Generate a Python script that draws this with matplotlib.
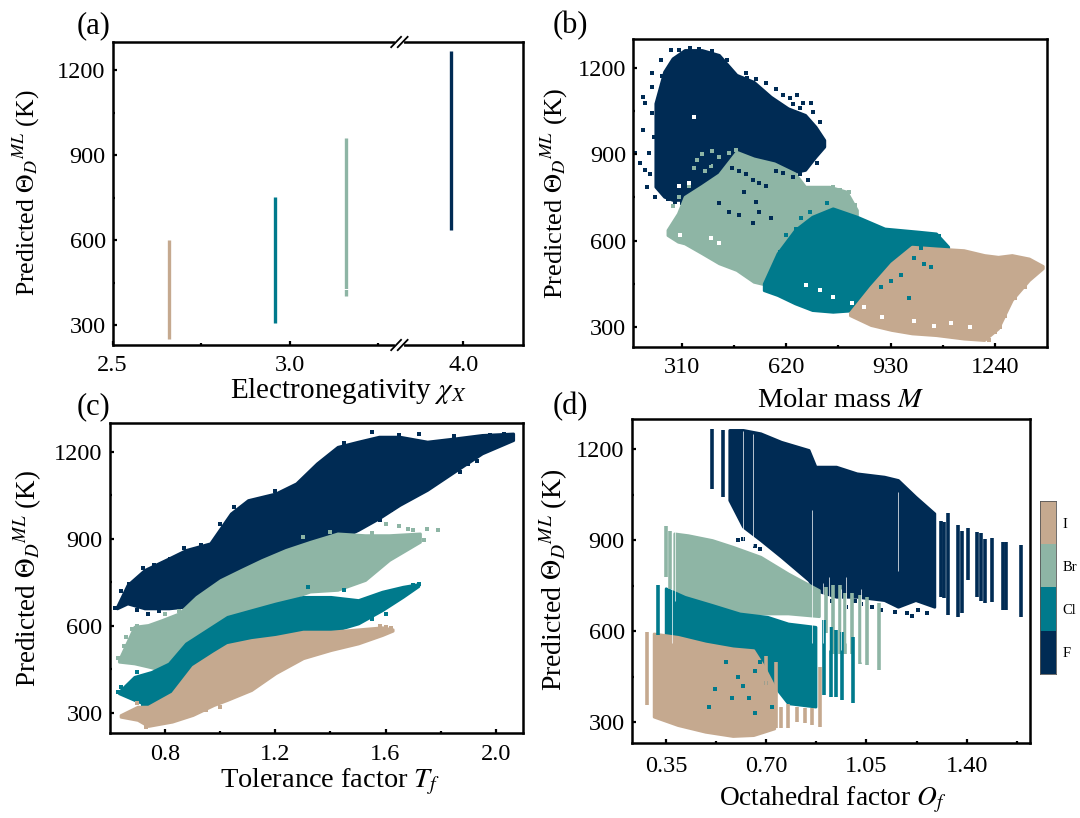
import numpy as np
import matplotlib
matplotlib.use('Agg')
import matplotlib.pyplot as plt

plt.rcParams['font.family'] = ['Liberation Serif', 'DejaVu Serif']
plt.rcParams['mathtext.fontset'] = 'stix'

W, H = 1080, 818
NAVY, TEAL, SAGE, TAN = '#002b54', '#007a8c', '#8eb5a5', '#c5a98f'

halogens = ['F', 'Cl', 'Br', 'I']

# (a) electronegativity
a_x = [2.658, 2.959, 3.16, 3.966]
a_lo = [252, 308, 405, 636]
a_hi = [600, 752, 961, 1268]
a_colors = [TAN, TEAL, SAGE, NAVY]

# (b) molar mass, cloud outlines and loose points
b_f_x = [231, 257, 282, 318, 369, 420, 472, 523, 574, 625, 676, 707, 733]
b_f_hi = [1076, 1186, 1232, 1261, 1261, 1244, 1175, 1151, 1099, 1059, 1036, 995, 949]
b_f_lo = [787, 752, 741, 741, 741, 741, 741, 787, 833, 833, 845, 891, 926]
b_f_px = [195, 201, 221, 221, 221, 247, 252, 279, 195, 185, 201, 206, 231, 170, 651, 630, 692, 671, 712, 686, 559, 502,
          240, 255, 270, 290, 310, 345, 380, 215, 212, 228, 238, 300, 335, 360, 400, 445, 500, 530, 590, 610, 640, 660, 700, 720]
b_f_py = [1099, 1076, 1180, 1134, 1041, 1227, 1169, 1261, 984, 868, 845, 787, 752, 903, 1105, 1094, 1076, 1076, 868, 810, 1146, 1163,
          800, 770, 745, 735, 730, 732, 738, 830, 905, 960, 1005, 1262, 1268, 1266, 1258, 1225, 1180, 1160, 1125, 1105, 1075, 1060, 1045, 1010]

b_br_x = [267, 298, 318, 369, 420, 472, 523, 584, 646, 676, 748, 799, 830]
b_br_hi = [637, 694, 752, 790, 830, 908, 885, 868, 833, 787, 787, 770, 706]
b_br_lo = [619, 596, 590, 556, 521, 498, 457, 440, 463, 509, 625, 683, 688]
b_br_px = [370, 400, 420, 450, 470, 355, 395, 380, 345, 330, 420, 450, 465, 285, 300, 780, 760, 805, 825]
b_br_py = [900, 910, 890, 905, 915, 880, 860, 840, 850, 790, 790, 850, 810, 720, 750, 775, 785, 770, 725]
b_nv_px = [390, 430, 460, 480, 500, 520, 540, 560, 420, 450, 480, 520, 540, 590, 610, 640, 660, 495, 530, 575]
b_nv_py = [870, 865, 850, 840, 830, 810, 800, 790, 730, 700, 690, 660, 700, 840, 835, 820, 830, 770, 735, 680]

b_cl_x = [553, 594, 646, 697, 758, 830, 912, 1014, 1065, 1101]
b_cl_hi = [451, 556, 637, 683, 712, 683, 642, 631, 625, 579]
b_cl_lo = [428, 411, 382, 359, 353, 359, 318, 509, 556, 567]
b_cl_px = [620, 640, 600, 580, 590, 650, 630, 665, 600, 690, 740, 1075, 1000, 1030, 1050, 1020, 900, 930, 960, 985, 1040, 1090]
b_cl_py = [620, 590, 560, 500, 470, 640, 520, 680, 440, 700, 730, 615, 540, 520, 510, 575, 440, 460, 480, 400, 590, 585]

b_i_x = [809, 871, 932, 993, 1065, 1147, 1208, 1249, 1290, 1341, 1382]
b_i_hi = [350, 440, 521, 579, 573, 567, 550, 544, 550, 538, 512]
b_i_lo = [341, 307, 290, 278, 272, 260, 255, 295, 394, 463, 504]
b_i_px = [1180, 1200, 1222, 1240, 1255, 1270, 1300, 1330, 1355]
b_i_py = [262, 268, 257, 282, 300, 340, 400, 440, 480]

# small gaps left between the points
b_gap_x = [305, 330, 300, 345, 395, 420, 680, 720, 760, 815, 850, 905, 1000, 1060, 1110, 1165]
b_gap_y = [620, 800, 790, 1030, 610, 590, 445, 430, 405, 385, 370, 335, 320, 305, 315, 300]

# (c) tolerance factor, cloud outlines and loose points
c_f_x = [.626, .664, .726, .814, .876, .964, 1.039, 1.101, 1.201, 1.276, 1.351, 1.426, 1.501, 1.576, 1.651, 1.751, 1.850, 1.950, 2.063]
c_f_hi = [666, 741, 793, 833, 862, 885, 988, 1034, 1057, 1092, 1161, 1218, 1236, 1253, 1253, 1236, 1247, 1259, 1264]
c_f_lo = [660, 677, 660, 660, 666, 723, 758, 769, 827, 862, 873, 896, 931, 971, 1017, 1069, 1132, 1195, 1241]
c_f_px = [.62, .66, .70, .74, .78, .85, .72, .76, .82, .87, .64, .67, 1.30, 1.62, 1.70, 1.75, 1.80, 1.87, 1.90, 1.93, 1.95, 1.78,
          1.20, 1.05, 1.65, 1.55, 1.72, 1.10, 1.30, 1.45, 1.85, 1.98, 2.03, .93, 1.00, 1.48, 1.58]
c_f_py = [660, 680, 655, 640, 650, 650, 800, 810, 830, 870, 720, 745, 880, 1000, 1060, 1090, 1130, 1130, 1160, 1170, 1210, 1100,
          1065, 1010, 1260, 1268, 1263, 760, 1100, 1232, 1255, 1258, 1262, 880, 950, 905, 965]

c_br_x = [.633, .689, .739, .789, .851, .914, 1.001, 1.076, 1.151, 1.238, 1.326, 1.426, 1.526, 1.613, 1.725]
c_br_hi = [482, 597, 603, 620, 643, 700, 758, 793, 827, 862, 890, 919, 913, 913, 919]
c_br_lo = [476, 470, 459, 447, 493, 551, 597, 643, 666, 689, 718, 724, 758, 827, 890]
c_br_px = [.63, .65, .66, .68, .70, .68, .72, 1.65, 1.68, 1.70, 1.75, 1.79, 1.74, 1.55, 1.60, 1.65, 1.55, 1.50, 1.40, 1.30, .85, .80]
c_br_py = [490, 530, 560, 590, 600, 510, 480, 945, 935, 930, 935, 930, 895, 920, 950, 860, 790, 780, 925, 905, 650, 640]

c_cl_x = [.633, .689, .751, .814, .876, .951, 1.026, 1.113, 1.201, 1.301, 1.401, 1.501, 1.588, 1.663, 1.719]
c_cl_hi = [372, 424, 441, 470, 539, 585, 631, 654, 677, 700, 700, 689, 718, 735, 744]
c_cl_lo = [367, 344, 321, 367, 401, 470, 516, 528, 551, 574, 580, 608, 654, 700, 737]
c_cl_px = [.63, .64, .70, .75, .85, .90, .94, 1.70, 1.72, 1.67, 1.60, 1.55, 1.32, 1.45, .80, .72]
c_cl_py = [370, 390, 440, 310, 380, 420, 440, 740, 745, 720, 640, 625, 735, 725, 310, 330]

c_i_x = [.639, .701, .739, .826, .901, .976, 1.026, 1.113, 1.201, 1.301, 1.401, 1.501, 1.588, 1.626]
c_i_hi = [292, 321, 321, 367, 459, 505, 534, 551, 562, 580, 580, 588, 595, 588]
c_i_lo = [286, 275, 254, 269, 292, 326, 344, 378, 436, 488, 516, 539, 568, 583]
c_i_px = [1.62, 1.60, 1.58, .73, 1.00, .95, .70, 1.05, 1.10]
c_i_py = [592, 595, 600, 250, 320, 310, 335, 375, 400]

# (d) octahedral factor, outlines plus separate columns
d_f_x = [.571, .619, .68, .752, .848, .872, .944, 1.016, 1.112, 1.16, 1.221, 1.287]
d_f_hi = [1264, 1264, 1253, 1225, 1198, 1143, 1143, 1121, 1110, 1099, 1044, 989]
d_f_lo = [1033, 945, 901, 846, 769, 736, 714, 714, 703, 681, 703, 681]
d_f_cx = [.511, .55, 1.311, 1.335, 1.371, 1.405, 1.437, 1.465, 1.488, 1.527, 1.537, 1.591, 1.32, 1.385, 1.45]
d_f_ct = [1266, 1264, 965, 989, 951, 940, 929, 903, 907, 896, 896, 885, 960, 930, 925]
d_f_cb = [1068, 1044, 714, 654, 648, 769, 714, 692, 698, 670, 670, 648, 710, 660, 700]
d_f_px = [.66, .72, .62, .60, .68, .75, .80, .85, .93, .98, 1.03, 1.07, 1.10, 1.15, 1.21, 1.23, .96, 1.01, 1.19, 1.26]
d_f_py = [880, 890, 905, 900, 870, 860, 830, 800, 700, 680, 690, 680, 670, 665, 650, 670, 720, 700, 660, 660]

d_br_x = [.379, .427, .511, .583, .68, .776, .884]
d_br_hi = [923, 917, 901, 879, 846, 791, 736]
d_br_lo = [659, 659, 659, 659, 659, 659, 650]
d_br_cx = [.351, .365, .908, .932, .956, .974, .998, 1.028, 1.052, 1.094]
d_br_ct = [947, 930, 747, 753, 753, 725, 725, 720, 714, 692]
d_br_cb = [780, 740, 593, 527, 527, 527, 527, 494, 489, 473]

d_cl_x = [.349, .415, .511, .607, .704, .776, .872]
d_cl_hi = [742, 714, 687, 659, 648, 626, 615]
d_cl_lo = [593, 571, 560, 538, 450, 363, 352]
d_cl_cx = [.322, .902, .926, .944, .966, 1.004]
d_cl_ct = [753, 637, 615, 604, 599, 582]
d_cl_cb = [588, 390, 385, 385, 374, 363]
d_cl_px = [.56, .60, .62, .66, .68, .70, .64, .72, .66, .58, .52, .50]
d_cl_py = [500, 450, 420, 470, 500, 430, 380, 350, 330, 380, 410, 350]

d_i_x = [.307, .391, .487, .583, .655, .692, .728]
d_i_hi = [593, 582, 560, 544, 538, 483, 417]
d_i_lo = [319, 291, 269, 255, 258, 269, 280]
d_i_cx = [.285, .70, .735, .752, .776, .806, .836, .86, .888]
d_i_ct = [599, 520, 500, 352, 360, 352, 346, 346, 483]
d_i_cb = [357, 270, 280, 280, 280, 302, 297, 291, 286]

# white stripes between columns
d_gap_x = [.619, .655, 1.16, .86, .92, .98, 1.03, 1.30, .38, .37, .90, .96]
d_gap_lo = [900, 880, 800, 560, 540, 560, 500, 700, 700, 560, 560, 540]
d_gap_hi = [1260, 1250, 1060, 1000, 780, 780, 740, 980, 930, 740, 760, 740]

y_ticks = [300, 600, 900, 1200]
y_minor = [450, 750, 1050]


def px_axes(left, top, right, bottom):
    return fig.add_axes([left / W, 1 - bottom / H, (right - left) / W, (bottom - top) / H])


def style(ax, pad):
    for s in ax.spines.values():
        s.set_linewidth(1.8)
    ax.set_ylim(231, 1299)
    ax.set_yticks(y_ticks)
    ax.set_yticks(y_minor, minor=True)
    ax.tick_params(which='major', direction='in', length=3, width=1.6, labelsize=17.5)
    ax.tick_params(which='minor', direction='in', length=1.5, width=1.6)
    ax.tick_params(axis='x', pad=pad)
    ax.tick_params(axis='y', pad=5)


def cloud(ax, x, lo, hi, color):
    ax.fill_between(x, lo, hi, color=color, lw=2)


def specks(ax, x, y, color, size=8):
    ax.scatter(x, y, marker='s', s=size, color=color, lw=0, clip_on=False)


def columns(ax, x, bottom, top, color, lw=2.6):
    ax.vlines(x, bottom, top, color=color, lw=lw)


def text_px(x, y, s, size, rotation=0):
    fig.text(x / W, 1 - y / H, s, fontsize=size, rotation=rotation, ha='center', va='center')


fig = plt.figure(figsize=(W / 100, H / 100), dpi=100)

# (a)
ax_a = px_axes(112.6, 42, 523, 345)
xin = [2.5, 3.31, 3.82, 4.17]
xout = [0, 0.81, 0.8101, 1.1601]
ax_a.set_xscale('function', functions=(lambda v: np.interp(v, xin, xout), lambda v: np.interp(v, xout, xin)))
ax_a.set_xlim(2.5, 4.169)
ax_a.vlines(a_x, a_lo, a_hi, colors=a_colors, lw=2.4)
ax_a.hlines(428, 3.14, 3.18, color='white', lw=.7)
style(ax_a, 7)
ax_a.set_xticks([2.5, 3.0, 4.0], ['2.5', '3.0', '4.0'])
ax_a.set_xticks([2.75, 3.25], minor=True)
# axis break marks
bx = (399.4 - 112.6) / (523 - 112.6)
for yy in (0, 1):
    ax_a.plot([bx - .006, bx + .006], [yy, yy], transform=ax_a.transAxes, color='white', lw=3, clip_on=False, zorder=5)
    for dx in (-.008, .008):
        ax_a.plot([bx + dx - .012, bx + dx + .012], [yy - .017, yy + .017], transform=ax_a.transAxes,
                  color='black', lw=1.3, clip_on=False, zorder=6)

# (b)
ax_b = px_axes(633.3, 39, 1046.5, 347)
cloud(ax_b, b_f_x, b_f_lo, b_f_hi, NAVY)
specks(ax_b, b_f_px, b_f_py, NAVY)
cloud(ax_b, b_br_x, b_br_lo, b_br_hi, SAGE)
specks(ax_b, b_br_px, b_br_py, SAGE)
specks(ax_b, b_nv_px, b_nv_py, NAVY, 5)
cloud(ax_b, b_cl_x, b_cl_lo, b_cl_hi, TEAL)
specks(ax_b, b_cl_px[:11], b_cl_py[:11], TEAL)
cloud(ax_b, b_i_x, b_i_lo, b_i_hi, TAN)
specks(ax_b, b_i_px, b_i_py, TAN)
specks(ax_b, b_cl_px[11:], b_cl_py[11:], TEAL)
specks(ax_b, b_gap_x, b_gap_y, 'white', 5)
style(ax_b, 7)
ax_b.set_xlim(165.6, 1393)
ax_b.set_xticks([310, 620, 930, 1240])
ax_b.set_xticks([465, 775, 1085], minor=True)

# (c)
ax_c = px_axes(109.5, 423.3, 523.4, 732.7)
cloud(ax_c, c_f_x, c_f_lo, c_f_hi, NAVY)
specks(ax_c, c_f_px, c_f_py, NAVY)
cloud(ax_c, c_br_x, c_br_lo, c_br_hi, SAGE)
specks(ax_c, c_br_px, c_br_py, SAGE)
cloud(ax_c, c_cl_x, c_cl_lo, c_cl_hi, TEAL)
specks(ax_c, c_cl_px, c_cl_py, TEAL)
cloud(ax_c, c_i_x, c_i_lo, c_i_hi, TAN)
specks(ax_c, c_i_px, c_i_py, TAN)
style(ax_c, 8)
ax_c.set_xlim(.599, 2.1)
ax_c.set_xticks([.8, 1.2, 1.6, 2.0], ['0.8', '1.2', '1.6', '2.0'])
ax_c.set_xticks([1.0, 1.4, 1.8], minor=True)

# (d)
ax_d = px_axes(631.6, 419.3, 1030, 743.3)
cloud(ax_d, d_f_x, d_f_lo, d_f_hi, NAVY)
columns(ax_d, d_f_cx, d_f_cb, d_f_ct, NAVY)
specks(ax_d, d_f_px, d_f_py, NAVY)
cloud(ax_d, d_br_x, d_br_lo, d_br_hi, SAGE)
columns(ax_d, d_br_cx, d_br_cb, d_br_ct, SAGE)
cloud(ax_d, d_cl_x, d_cl_lo, d_cl_hi, TEAL)
columns(ax_d, d_cl_cx, d_cl_cb, d_cl_ct, TEAL)
cloud(ax_d, d_i_x, d_i_lo, d_i_hi, TAN)
columns(ax_d, d_i_cx, d_i_cb, d_i_ct, TAN)
specks(ax_d, d_cl_px, d_cl_py, TEAL, 5)
columns(ax_d, d_gap_x, d_gap_lo, d_gap_hi, 'white', .5)
style(ax_d, 9)
ax_d.set_xlim(.23, 1.621)
ax_d.set_xticks([.35, .70, 1.05, 1.40], ['0.35', '0.70', '1.05', '1.40'])
ax_d.set_xticks([.525, .875, 1.225, 1.575], minor=True)

# colour key
ax_k = px_axes(1040.3, 501, 1055.5, 673.7)
ax_k.bar([0] * 4, [1] * 4, bottom=range(4), width=1, color=[NAVY, TEAL, SAGE, TAN])
ax_k.set_xlim(-.5, .5)
ax_k.set_ylim(0, 4)
ax_k.set_xticks([])
ax_k.yaxis.tick_right()
ax_k.set_yticks([.5, 1.5, 2.5, 3.5], halogens)
ax_k.tick_params(axis='y', length=0, pad=5, labelsize=10.5)
for s in ax_k.spines.values():
    s.set_linewidth(.6)
    s.set_color('#555555')

ylab = r'Predicted $\Theta_D$$^{ML}$ (K)'
text_px(26, 193, ylab, 18.5, 90)
text_px(554, 193, ylab, 19, 90)
text_px(28, 578, ylab, 19.5, 90)
text_px(554, 580, ylab, 20, 90)

text_px(348, 391, r'Electronegativity $\chi_X$', 21)
text_px(841, 401, r'Molar mass $M$', 20.5)
text_px(330, 782, r'Tolerance factor $T_f$', 20.4)
text_px(833, 800, r'Octahedral factor $O_f$', 19.7)

text_px(94, 26, '(a)', 22)
text_px(570, 26, '(b)', 22)
text_px(94, 407, '(c)', 22)
text_px(570, 407, '(d)', 22)

fig.savefig('out.png', dpi=100)
